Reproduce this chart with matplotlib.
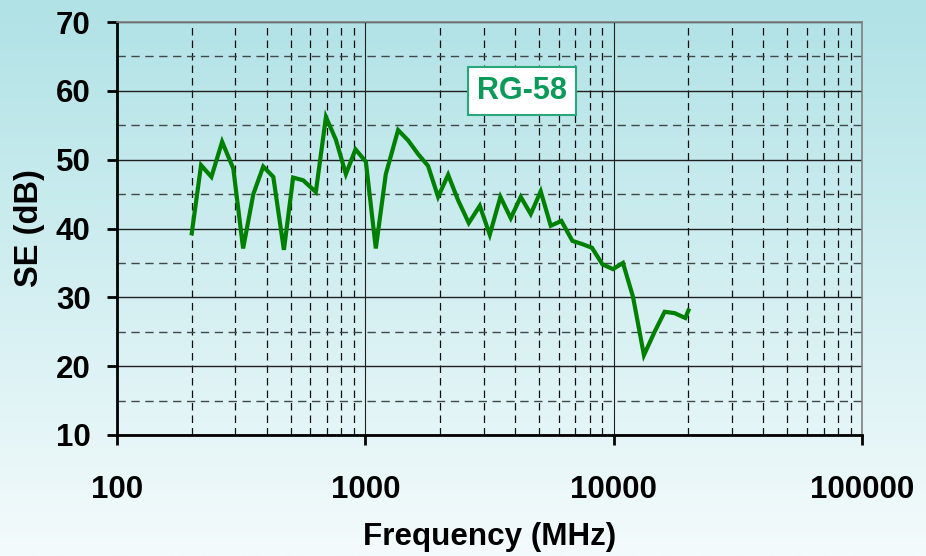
import numpy as np
import matplotlib
matplotlib.use('Agg')
import matplotlib.pyplot as plt
from matplotlib.colors import LinearSegmentedColormap
from matplotlib.ticker import FixedLocator, NullFormatter

plt.rcParams['font.family'] = ['Liberation Sans', 'DejaVu Sans']

# RG-58 shielding effectiveness
freq_mhz = [200, 218, 240, 265, 294, 322, 354, 388, 426, 470, 512, 562, 632, 694,
            761, 835, 913, 1005, 1102, 1209, 1355, 1487, 1632, 1789, 1963, 2155,
            2364, 2609, 2890, 3170, 3499, 3851, 4225, 4635, 5084, 5579, 6159, 6822,
            7523, 8180, 9006, 9933, 10900, 11960, 13240, 14620, 16040, 17610, 19430, 20000]
se_db = [39.3, 49.2, 47.5, 52.6, 48.7, 37.1, 45.0, 49.0, 47.5, 36.9, 47.4, 47.0, 45.3, 56.2,
         52.9, 47.9, 51.5, 49.7, 37.1, 47.9, 54.3, 52.8, 50.8, 49.1, 44.6, 47.8,
         44.1, 40.8, 43.3, 39.1, 44.6, 41.5, 44.6, 42.1, 45.4, 40.4, 41.1, 38.2,
         37.7, 37.2, 34.8, 34.1, 35.0, 30.1, 21.6, 25.0, 27.9, 27.7, 27.0, 28.1]
cable = 'RG-58'

fig = plt.figure(figsize=(9.26, 5.56), dpi=100)

# background gradient, light teal on top fading to white
bg = fig.add_axes([0, 0, 1, 1], zorder=-10)
cmap = LinearSegmentedColormap.from_list('bg', ['#b0e2e6', '#f4fbfc'])
bg.imshow(np.linspace(0, 1, 256).reshape(-1, 1), aspect='auto', cmap=cmap,
          extent=[0, 1, 0, 1])
bg.axis('off')

ax = fig.add_axes([117 / 926, 1 - 435 / 556, 745 / 926, 413 / 556])
ax.patch.set_alpha(0)

ax.plot(freq_mhz, se_db, color='#008000', lw=3.0, zorder=5, solid_joinstyle='miter')

ax.set_xscale('log')
ax.set_xlim(100, 100000)
ax.set_ylim(10, 70)
ax.set_yticks(range(10, 71, 10))
ax.set_xticks([100, 1000, 10000, 100000])
ax.set_xticklabels(['100', '1000', '10000', '100000'])
ax.yaxis.set_minor_locator(FixedLocator(range(15, 70, 10)))
ax.xaxis.set_minor_formatter(NullFormatter())

# grid: solid majors, dashed minors
ax.grid(which='major', axis='y', color='#202020', lw=1.0, ls='-')
ax.grid(which='major', axis='x', color='#202020', lw=0.8, ls='-')
ax.grid(which='minor', axis='y', color='#404848', lw=1.0, ls=(0, (6, 4)))
ax.grid(which='minor', axis='x', color='#101010', lw=0.9, ls=(0, (6, 4)))
ax.set_axisbelow(True)

ax.tick_params(which='minor', length=0)
ax.tick_params(which='major', length=7, width=2, direction='out', labelsize=22.5)
ax.tick_params(axis='y', pad=12)
ax.tick_params(axis='x', pad=22)
for lab in ax.get_xticklabels() + ax.get_yticklabels():
    lab.set_fontweight('bold')

for side in ['left', 'bottom']:
    ax.spines[side].set_linewidth(2)
    ax.spines[side].set_color('black')
for side in ['top', 'right']:
    ax.spines[side].set_linewidth(1.2)
    ax.spines[side].set_color('#808080')

ax.set_xlabel('Frequency (MHz)', fontsize=22.6, fontweight='bold', labelpad=12)
ax.set_ylabel('SE (dB)', fontsize=23.5, fontweight='bold', labelpad=8)

ax.text(522 / 926, 1 - 91 / 556, cable, transform=fig.transFigure, ha='center', va='center',
        fontsize=22, fontweight='bold', color='#0a9a5a', zorder=10,
        bbox=dict(boxstyle='square,pad=0.3', facecolor='white', edgecolor='#2aa77a', lw=1.5))

fig.savefig('out.png', dpi=100)
